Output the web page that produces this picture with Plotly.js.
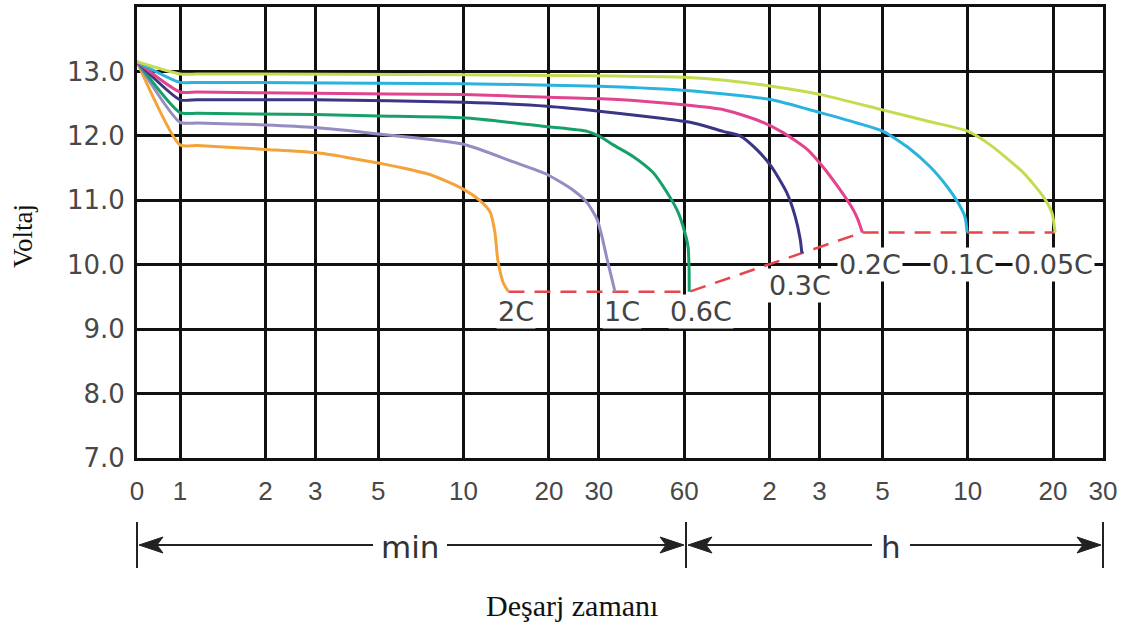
<!DOCTYPE html>
<html>
<head>
<meta charset="utf-8">
<script src="https://cdn.plot.ly/plotly-3.0.1.min.js"></script>
<style>
  html, body { margin: 0; padding: 0; background: #ffffff; }
  #chart { width: 1132px; height: 628px; }
</style>
</head>
<body>
<div id="chart"></div>
<script>
// ---------- DATA (time in minutes, voltage in V) ----------
const tickMinutes = [0, 1, 2, 3, 5, 10, 20, 30, 60, 120, 180, 300, 600, 1200, 1800];
const tickText = ['0', '1', '2', '3', '5', '10', '20', '30', '60', '2', '3', '5', '10', '20', '30'];
const voltTicks = [7, 8, 9, 10, 11, 12, 13];
const voltText = ['7.0', '8.0', '9.0', '10.0', '11.0', '12.0', '13.0'];

const rateNames = ['2C', '1C', '0.6C', '0.3C', '0.2C', '0.1C', '0.05C'];

const t_2C = [0, 1, 1.15, 2, 3, 5, 7.6, 10, 11.4, 12.4, 12.9, 13.2, 13.8, 14.4];
const v_2C = [13.15, 11.86, 11.85, 11.79, 11.74, 11.58, 11.4, 11.17, 11.0, 10.82, 10.5, 10.08, 9.72, 9.58];

const t_1C = [0, 1, 1.15, 2, 3, 5, 10, 14.9, 19.7, 24.3, 27.3, 29.6, 30.8, 32.1, 33.4, 34.2];
const v_1C = [13.15, 12.21, 12.2, 12.17, 12.13, 12.03, 11.87, 11.6, 11.4, 11.16, 10.96, 10.7, 10.43, 10.08, 9.77, 9.58];

const t_06C = [0, 1, 1.15, 3, 5, 10, 20, 27.3, 30.3, 33.7, 39.6, 46.6, 52.2, 56.6, 59.5, 61.9, 62.4, 62.5];
const v_06C = [13.15, 12.36, 12.35, 12.33, 12.31, 12.28, 12.14, 12.07, 11.99, 11.86, 11.68, 11.43, 11.12, 10.85, 10.59, 10.28, 9.97, 9.58];

const t_03C = [0, 1, 1.15, 3, 10, 19.7, 33.7, 50.6, 63, 74, 82.2, 94.5, 108, 122, 138, 148, 154, 156];
const v_03C = [13.15, 12.56, 12.56, 12.56, 12.52, 12.46, 12.36, 12.27, 12.21, 12.13, 12.07, 12.0, 11.79, 11.52, 11.12, 10.74, 10.39, 10.18];

const t_02C = [0, 1, 1.15, 3, 10, 20, 33.7, 61, 82, 108, 134, 163, 185, 213, 237, 246, 255];
const v_02C = [13.15, 12.68, 12.68, 12.66, 12.64, 12.6, 12.57, 12.48, 12.41, 12.25, 12.05, 11.79, 11.52, 11.16, 10.85, 10.7, 10.5];

const t_01C = [0, 1, 1.15, 10, 30, 63, 122, 181, 244, 302, 367, 442, 508, 555, 587, 597];
const v_01C = [13.15, 12.83, 12.83, 12.81, 12.77, 12.7, 12.56, 12.36, 12.2, 12.07, 11.83, 11.52, 11.21, 10.96, 10.74, 10.5];

const t_005C = [0, 1, 1.15, 10, 60, 85, 122, 182, 302, 442, 602, 720, 942, 1107, 1190, 1220];
const v_005C = [13.15, 12.96, 12.96, 12.95, 12.91, 12.86, 12.77, 12.64, 12.4, 12.22, 12.07, 11.86, 11.43, 11.06, 10.8, 10.5];

// end-of-discharge (cut-off) line
const t_cut = [14.4, 62.5, 156, 255, 1220];
const v_cut = [9.58, 9.58, 10.18, 10.5, 10.5];

// ---------- STYLE ----------
const seriesT = [t_2C, t_1C, t_06C, t_03C, t_02C, t_01C, t_005C];
const seriesV = [v_2C, v_1C, v_06C, v_03C, v_02C, v_01C, v_005C];
const colors = ['#F2A33A', '#958CC4', '#17A06A', '#3A3585', '#E2448E', '#2BB3DF', '#C6DC50'];
// pixel offsets of each rate label from the end point of its curve
const labelShift = [[8, -2], [7, -2], [12, -2], [-2, -15], [8, -14], [-4, -14], [-2, -14]];

// time 0 sits at the left edge of the logarithmic time axis
const AXIS_ZERO = 0.705;
const toX = t => (t === 0 ? AXIS_ZERO : t);

const traces = [];
traces.push({
  x: t_cut.map(toX), y: v_cut, type: 'scatter', mode: 'lines',
  line: { color: '#E5474D', width: 2.5, dash: '16px,10px' },
  hoverinfo: 'skip', showlegend: false
});
for (let i = 0; i < rateNames.length; i++) {
  traces.push({
    x: seriesT[i].map(toX), y: seriesV[i], type: 'scatter', mode: 'lines',
    name: rateNames[i], line: { color: colors[i], width: 3, shape: 'spline', smoothing: 0.6 }, showlegend: false
  });
}

// paper helpers (plot area: x 137..1103, y 7..458 in pixels)
const PX = x => (x - 137) / 966;
const PY = y => (458 - y) / 451;

const sansLbl = { family: 'DejaVu Sans, sans-serif', size: 27, color: '#444444' };
const annotations = [];
for (let i = 0; i < rateNames.length; i++) {
  const tEnd = seriesT[i][seriesT[i].length - 1];
  const vEnd = seriesV[i][seriesV[i].length - 1];
  annotations.push({
    x: Math.log10(tEnd), y: vEnd, xref: 'x', yref: 'y',
    text: rateNames[i], showarrow: false, xanchor: 'center', yanchor: 'top',
    xshift: labelShift[i][0], yshift: labelShift[i][1],
    bgcolor: '#ffffff', borderpad: 1, font: sansLbl
  });
}
annotations.push({
  xref: 'paper', yref: 'paper', x: PX(410), y: PY(547), text: 'min', showarrow: false,
  xanchor: 'center', yanchor: 'middle', font: { family: 'DejaVu Sans, sans-serif', size: 31, color: '#333333' }
});
annotations.push({
  xref: 'paper', yref: 'paper', x: PX(891), y: PY(547), text: 'h', showarrow: false,
  xanchor: 'center', yanchor: 'middle', font: { family: 'DejaVu Sans, sans-serif', size: 31, color: '#333333' }
});
annotations.push({
  xref: 'paper', yref: 'paper', x: PX(572), y: PY(605), text: 'Deşarj zamanı', showarrow: false,
  xanchor: 'center', yanchor: 'middle', font: { family: 'Liberation Serif, Times New Roman, serif', size: 30, color: '#111111' }
});
annotations.push({
  xref: 'paper', yref: 'paper', x: PX(23), y: PY(236), text: 'Voltaj', showarrow: false, textangle: -90,
  xanchor: 'center', yanchor: 'middle', font: { family: 'Liberation Serif, Times New Roman, serif', size: 27, color: '#111111' }
});

const arrowY = 545;
const lineStyle = { color: '#222222', width: 2 };
const shapes = [];
[137, 686, 1103].forEach(x => shapes.push({
  type: 'line', xref: 'paper', yref: 'paper', x0: PX(x), x1: PX(x), y0: PY(522), y1: PY(568), line: lineStyle
}));
[[157, 373], [447, 666], [706, 872], [910, 1083]].forEach(s => shapes.push({
  type: 'line', xref: 'paper', yref: 'paper', x0: PX(s[0]), x1: PX(s[1]), y0: PY(arrowY), y1: PY(arrowY), line: lineStyle
}));
function head(tip, dir) {
  const b = tip + dir * 24, n = tip + dir * 18;
  return 'M' + PX(tip) + ',' + PY(arrowY) + ' L' + PX(b) + ',' + PY(arrowY - 8) +
    ' L' + PX(n) + ',' + PY(arrowY) + ' L' + PX(b) + ',' + PY(arrowY + 8) + ' Z';
}
[[139, 1], [684, -1], [688, 1], [1101, -1]].forEach(h => shapes.push({
  type: 'path', xref: 'paper', yref: 'paper', path: head(h[0], h[1]),
  fillcolor: '#222222', line: { color: '#222222', width: 1 }
}));

const layout = {
  width: 1132, height: 628,
  margin: { l: 137, r: 29, t: 7, b: 170 },
  paper_bgcolor: '#ffffff', plot_bgcolor: '#ffffff',
  showlegend: false,
  xaxis: {
    type: 'log', range: [Math.log10(AXIS_ZERO), Math.log10(1800)],
    tickmode: 'array', tickvals: tickMinutes.map(toX), ticktext: tickText,
    showgrid: true, gridcolor: '#111111', gridwidth: 3,
    showline: true, linecolor: '#111111', linewidth: 3, mirror: true,
    ticks: '', zeroline: false, ticklabelstandoff: 8,
    tickfont: { family: 'Liberation Sans, Arial, sans-serif', size: 26, color: '#484848' }
  },
  yaxis: {
    range: [7, 14], tickmode: 'array', tickvals: voltTicks, ticktext: voltText,
    showgrid: true, gridcolor: '#111111', gridwidth: 3,
    showline: true, linecolor: '#111111', linewidth: 3, mirror: true,
    ticks: '', zeroline: false, ticklabelstandoff: 4,
    tickfont: { family: 'DejaVu Sans, sans-serif', size: 26, color: '#484848' }
  },
  annotations: annotations,
  shapes: shapes
};

Plotly.newPlot('chart', traces, layout, { staticPlot: true, displayModeBar: false });
</script>
</body>
</html>
